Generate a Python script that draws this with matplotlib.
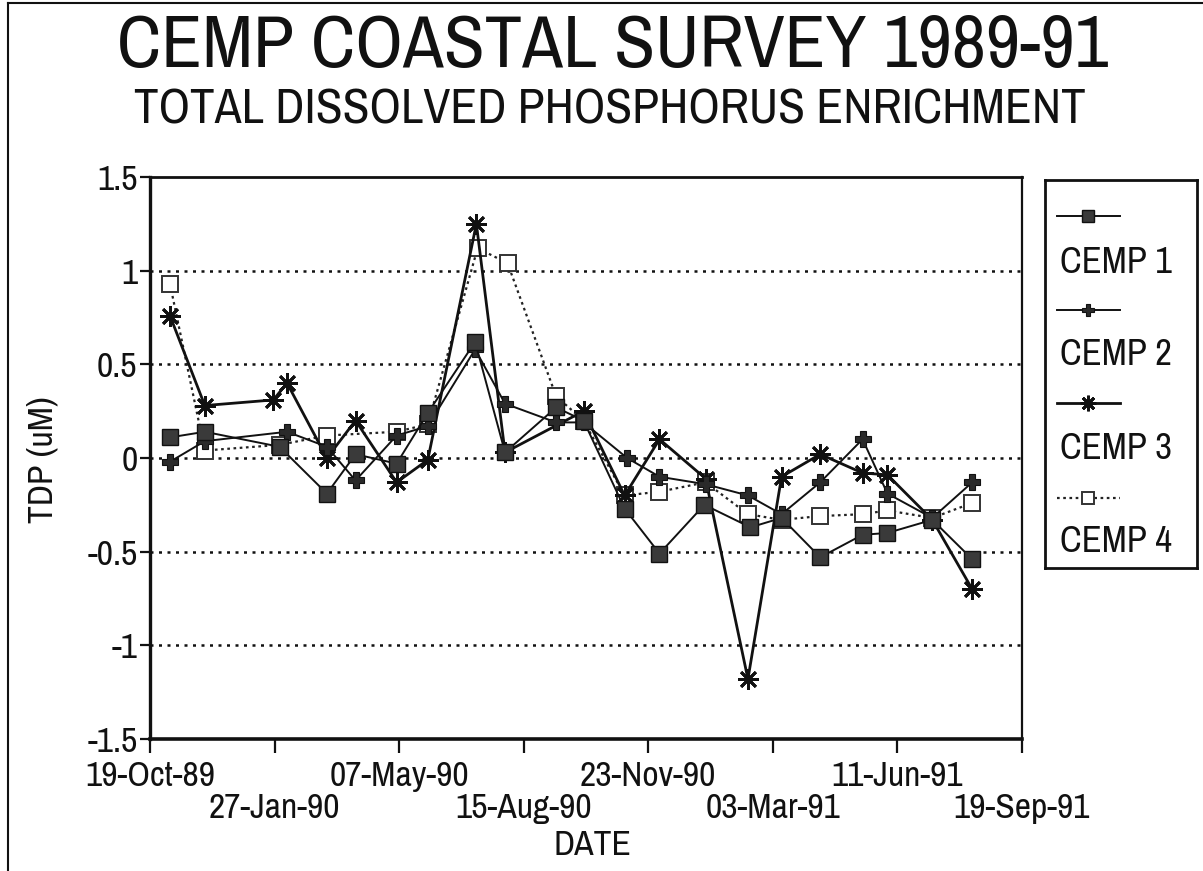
import matplotlib
matplotlib.use('Agg')
import matplotlib.pyplot as plt
from matplotlib.lines import Line2D
from matplotlib import font_manager
import pandas as pd

# ---------------- data ----------------
title = "CEMP COASTAL SURVEY 1989-91"
subtitle = "TOTAL DISSOLVED PHOSPHORUS ENRICHMENT"
x_label = "DATE"
y_label = "TDP (uM)"
series_names = ["CEMP 1", "CEMP 2", "CEMP 3", "CEMP 4"]

tick_dates = ["1989-10-19", "1990-01-27", "1990-05-07", "1990-08-15",
              "1990-11-23", "1991-03-03", "1991-06-11", "1991-09-19"]
tick_labels = ["19-Oct-89", "27-Jan-90", "07-May-90", "15-Aug-90",
               "23-Nov-90", "03-Mar-91", "11-Jun-91", "19-Sep-91"]
y_ticks = [-1.5, -1, -0.5, 0, 0.5, 1, 1.5]
y_tick_labels = ["-1.5", "-1", "-0.5", "0", "0.5", "1", "1.5"]
grid_levels = [-1, -0.5, 0, 0.5, 1]

cemp1_dates = ["1989-11-04", "1989-12-02", "1990-01-31", "1990-03-10", "1990-04-02",
               "1990-05-05", "1990-05-30", "1990-07-07", "1990-07-31", "1990-09-10",
               "1990-10-02", "1990-11-04", "1990-12-02", "1991-01-07", "1991-02-13",
               "1991-03-10", "1991-04-10", "1991-05-14", "1991-06-03", "1991-07-09",
               "1991-08-10"]
cemp1_values = [0.11, 0.14, 0.06, -0.19, 0.02, -0.03, 0.24, 0.62, 0.03, 0.27,
                0.20, -0.27, -0.51, -0.25, -0.37, -0.32, -0.53, -0.41, -0.40, -0.33,
                -0.54]

cemp2_dates = ["1989-11-04", "1989-12-02", "1990-02-06", "1990-03-10", "1990-04-02",
               "1990-05-05", "1990-05-30", "1990-07-07", "1990-07-31", "1990-09-10",
               "1990-10-02", "1990-11-06", "1990-12-02", "1991-01-08", "1991-02-11",
               "1991-03-10", "1991-04-10", "1991-05-14", "1991-06-03", "1991-07-09",
               "1991-08-10"]
cemp2_values = [-0.02, 0.09, 0.14, 0.06, -0.12, 0.12, 0.17, 0.58, 0.29, 0.19,
                0.19, 0.00, -0.10, -0.14, -0.20, -0.30, -0.13, 0.10, -0.19, -0.32,
                -0.13]

cemp3_dates = ["1989-11-04", "1989-12-02", "1990-01-26", "1990-02-06", "1990-03-10",
               "1990-04-02", "1990-05-05", "1990-05-30", "1990-07-08", "1990-07-31",
               "1990-10-02", "1990-11-04", "1990-12-02", "1991-01-08", "1991-02-11",
               "1991-03-10", "1991-04-10", "1991-05-14", "1991-06-03", "1991-07-09",
               "1991-08-10"]
cemp3_values = [0.76, 0.28, 0.31, 0.40, 0.00, 0.20, -0.13, -0.01, 1.25, 0.03,
                0.25, -0.20, 0.10, -0.11, -1.18, -0.10, 0.02, -0.08, -0.09, -0.33,
                -0.70]

cemp4_dates = ["1989-11-04", "1989-12-02", "1990-01-31", "1990-03-10", "1990-05-05",
               "1990-05-30", "1990-07-09", "1990-08-02", "1990-09-10", "1990-10-02",
               "1990-11-04", "1990-12-02", "1991-01-08", "1991-02-11", "1991-03-10",
               "1991-04-10", "1991-05-14", "1991-06-03", "1991-07-09", "1991-08-10"]
cemp4_values = [0.93, 0.04, 0.07, 0.12, 0.14, 0.18, 1.12, 1.04, 0.33, 0.20,
                -0.20, -0.18, -0.13, -0.30, -0.33, -0.31, -0.30, -0.28, -0.32, -0.24]

# ---------------- fonts ----------------
avail = {f.name for f in font_manager.fontManager.ttflist}
FAM = 'Liberation Sans'
for cand in ['Nimbus Sans Narrow', 'Arial Narrow', 'Liberation Sans Narrow',
             'Archivo Narrow', 'Roboto Condensed', 'PT Sans Narrow', 'Pragati Narrow']:
    if cand in avail:
        FAM = cand
        break
plt.rcParams['font.family'] = [FAM, 'DejaVu Sans']

INK = '#111111'

# ---------------- figure ----------------
W, H = 1203, 871
fig = plt.figure(figsize=(W / 100, H / 100), dpi=100)
fig.patch.set_facecolor('white')


def fx(px):
    return px / W


def fy(py):
    return 1 - py / H


r = fig.canvas.get_renderer()


def fit_size(text, target_px, base=20):
    t = fig.text(0, 0, text, fontsize=base)
    bb = t.get_window_extent(r)
    t.remove()
    return base * target_px / bb.width


tick_fs = fit_size("19-Oct-89", 130)

ax_l, ax_r, ax_t, ax_b = 150, 1022, 177, 739
ax = fig.add_axes([fx(ax_l), fy(ax_b), fx(ax_r - ax_l), (ax_b - ax_t) / H])

styles = [
    dict(color=INK, lw=1.4, ls='-', marker='s', ms=12, mfc='#3a3a3a', mec=INK, mew=1.0),
    dict(color=INK, lw=1.4, ls='-', marker='P', ms=11, mfc='#2a2a2a', mec=INK, mew=0.8),
    dict(color=INK, lw=2.0, ls='-', marker=(8, 2, 0), ms=15, mec=INK, mew=2.0),
    dict(color='#222222', lw=1.6, ls=(0, (1.2, 1.6)), marker='s', ms=12, mfc='white',
         mec='#333333', mew=1.4),
]
all_dates = [cemp1_dates, cemp2_dates, cemp3_dates, cemp4_dates]
all_values = [cemp1_values, cemp2_values, cemp3_values, cemp4_values]

for i in range(4):
    d = pd.to_datetime(all_dates[i])
    ax.plot(d, all_values[i], zorder=3 + (3 - i) * 0.1, **styles[i])

for g in grid_levels:
    ax.axhline(g, color=INK, lw=1.8, ls=(0, (1.2, 2.2)), zorder=1)

tick_dt = pd.to_datetime(tick_dates)
ax.set_xlim(tick_dt[0], tick_dt[-1])
ax.set_ylim(-1.5, 1.5)
ax.set_xticks(tick_dt)
ax.set_xticklabels([lab if k % 2 == 0 else '\n' + lab for k, lab in enumerate(tick_labels)],
                   fontsize=tick_fs, linespacing=1.0)
ax.set_yticks(y_ticks)
ax.set_yticklabels(y_tick_labels, fontsize=tick_fs)
ax.tick_params(axis='x', direction='out', length=10, width=1.6, color=INK, pad=5,
               labelcolor=INK)
ax.tick_params(axis='y', direction='out', length=7, width=1.6, color=INK, pad=2,
               labelcolor=INK)
for side, lw in (('left', 2.4), ('bottom', 2.6), ('top', 2.0), ('right', 1.6)):
    ax.spines[side].set_linewidth(lw)
    ax.spines[side].set_color(INK)

# axis labels
fig.text(fx(593), fy(845), x_label, ha='center', va='center', fontsize=tick_fs, color=INK)
fig.text(fx(42), fy(460), y_label, ha='center', va='center', rotation=90,
         fontsize=tick_fs, color=INK)

# titles
fig.text(fx(613), fy(46), title, ha='center', va='center',
         fontsize=fit_size(title, 992, 60), color=INK)
fig.text(fx(610), fy(110), subtitle, ha='center', va='center',
         fontsize=fit_size(subtitle, 950, 30), color=INK)

# legend box (manual, label under each sample)
lg_l, lg_r, lg_t, lg_b = 1045, 1197, 180, 568
lax = fig.add_axes([fx(lg_l), fy(lg_b), fx(lg_r - lg_l), (lg_b - lg_t) / H])
lax.set_xlim(lg_l, lg_r)
lax.set_ylim(lg_b, lg_t)
lax.set_xticks([])
lax.set_yticks([])
for s in lax.spines.values():
    s.set_linewidth(2.0)
    s.set_color(INK)
leg_fs = fit_size("CEMP 1", 112)
sample_y = [216, 310, 403, 498]
text_y = [262, 354, 448, 541]
for i in range(4):
    st = dict(styles[i])
    st['ms'] = st['ms'] * 0.75
    lax.plot([1057, 1120], [sample_y[i], sample_y[i]], markevery=[], **st)
    lax.plot([1088], [sample_y[i]], ls='none',
             **{k: v for k, v in st.items() if k not in ('ls', 'lw')})
    lax.text(1060, text_y[i], series_names[i], ha='left', va='center',
             fontsize=leg_fs, color=INK)

# outer frame lines
fig.add_artist(Line2D([fx(8), fx(8)], [0, fy(3)], transform=fig.transFigure, color=INK, lw=1.5))
fig.add_artist(Line2D([fx(8), 1], [fy(3), fy(3)], transform=fig.transFigure, color=INK, lw=1.5))

fig.savefig('out.png', dpi=100, facecolor='white')
